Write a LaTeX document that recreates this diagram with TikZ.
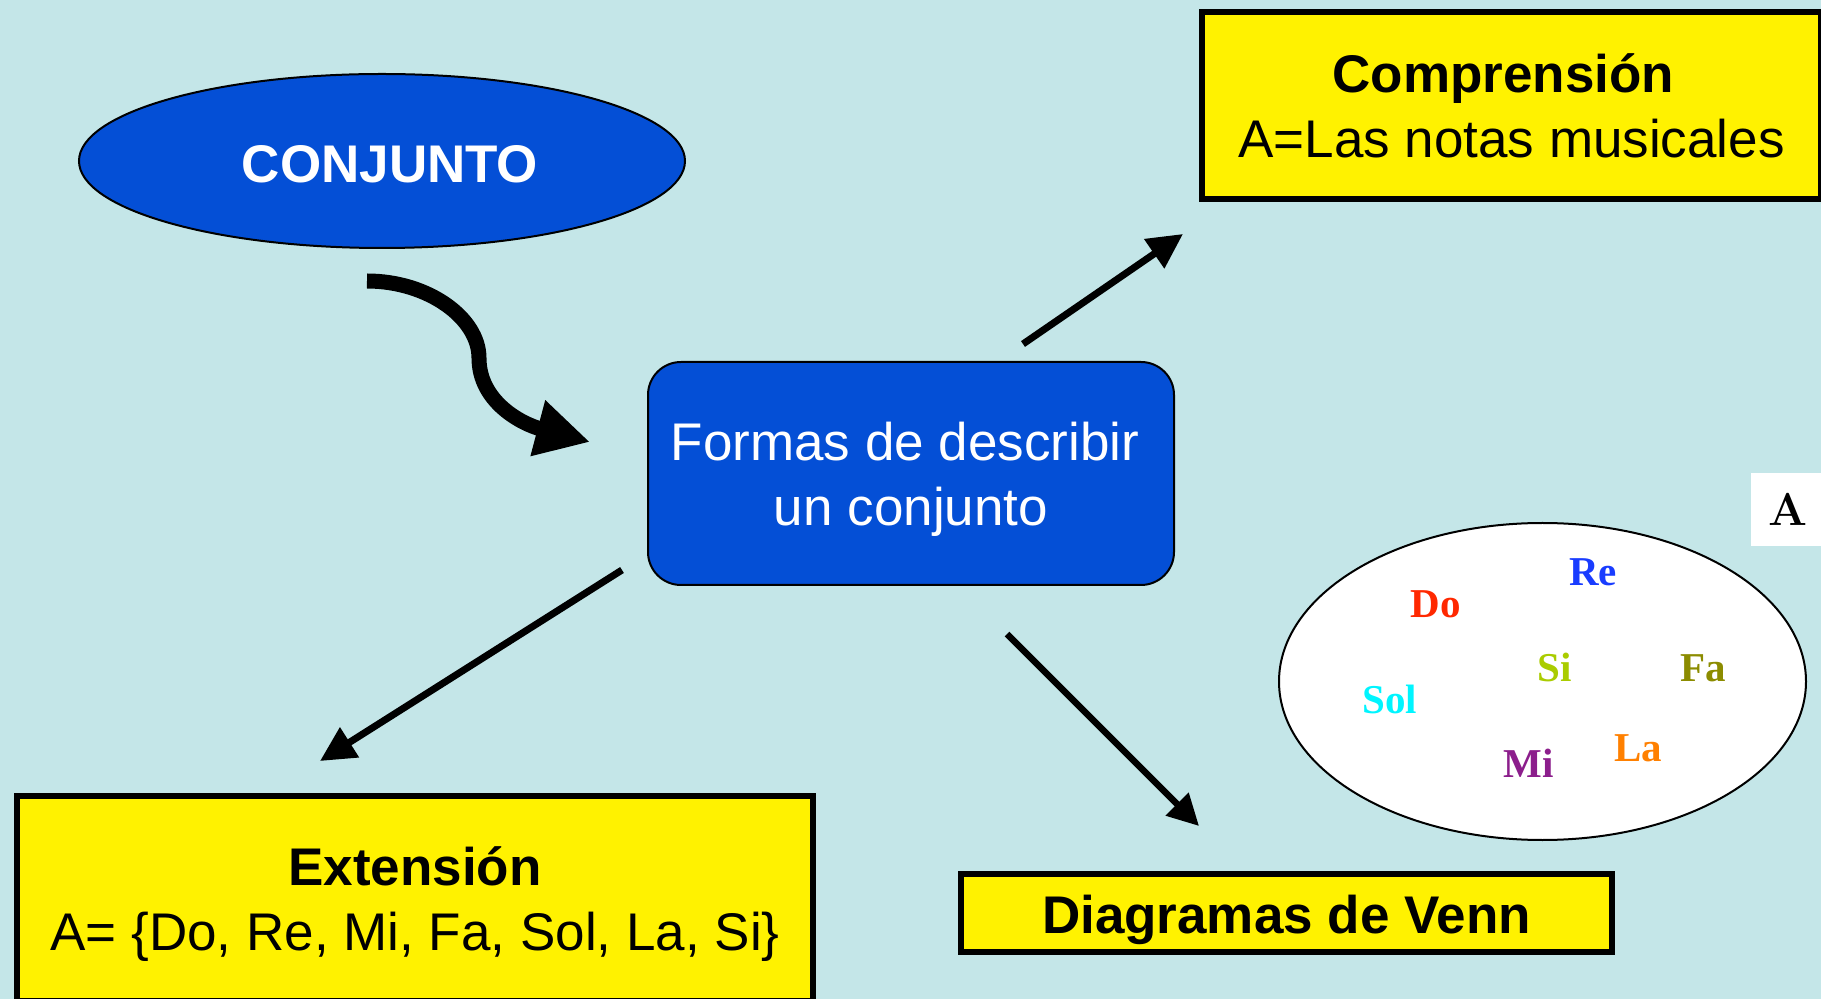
\documentclass[tikz,border=0pt]{standalone}
\usepackage{fontspec}
\newfontfamily\arial{Liberation Sans}
\newfontfamily\notef{Liberation Serif}
\usetikzlibrary{shapes.geometric,arrows.meta}
\definecolor{bg}{RGB}{196,230,232}
\definecolor{boxblue}{RGB}{4,79,214}
\definecolor{cDo}{RGB}{255,40,0}
\definecolor{cRe}{RGB}{25,60,255}
\definecolor{cSi}{RGB}{170,204,0}
\definecolor{cFa}{RGB}{140,140,0}
\definecolor{cSol}{RGB}{0,245,255}
\definecolor{cLa}{RGB}{255,128,0}
\definecolor{cMi}{RGB}{140,30,140}
\newcommand{\strutto}[1]{\rule{0pt}{#1}}
\begin{document}
\begin{tikzpicture}[x=0.5pt,y=-0.5pt,
  big/.style={font=\arial\fontsize{26.5}{32.5}\selectfont, align=center},
  bigbold/.style={font=\arial\bfseries\fontsize{26.5}{32.5}\selectfont, align=center},
  bluebox/.style={draw=black, line width=1pt, fill=boxblue, text=white, inner sep=0pt},
  yelbox/.style={draw=black, line width=3pt, fill=yellow, text=black, inner sep=0pt, rectangle},
  note/.style={font=\notef\bfseries\fontsize{20.5}{24}\selectfont, inner sep=0pt},
  thinarrow/.style={line width=3.5pt, -{Triangle[length=17.5pt,width=17pt]}},
]
\useasboundingbox (0,0) rectangle (1821,999);
\clip (0,0) rectangle (1821,999);
\fill[bg] (0,0) rectangle (1821,999);

% main shapes
\node[bluebox, ellipse, minimum width=303pt, minimum height=87pt, bigbold] (conj) at (382,161) {\hspace{8pt}\strutto{22pt}CONJUNTO};
\node[bluebox, rectangle, rounded corners=16.5pt, minimum width=263pt, minimum height=111.5pt, big] (forms) at (911,473.5) {\strutto{25.3pt}Formas de describir\hspace*{6pt}\\un conjunto};
\node[yelbox, minimum width=309.5pt, minimum height=93.5pt, big] (comp) at (1511.5,105.5) {\textbf{Comprensión}\hspace*{8pt}\\A=Las notas musicales};
\node[yelbox, minimum width=398pt, minimum height=102.5pt, big] (ext) at (415,898.5) {\strutto{24.5pt}\textbf{Extensión}\\A= \{Do, Re, Mi, Fa, Sol, La, Si\}};
\node[yelbox, minimum width=325.5pt, minimum height=39pt, bigbold] (venn) at (1286.5,913) {\strutto{26.5pt}Diagramas de Venn};

% Venn diagram
\node[ellipse, draw=black, line width=1pt, fill=white, minimum width=263.5pt, minimum height=158.5pt, inner sep=0pt] (set) at (1542.5,681.5) {};
\node[fill=white, minimum width=37pt, minimum height=36.5pt, inner sep=0pt, font=\bfseries\fontsize{23}{26}\selectfont] (setA) at (1788,509.5) {A};
\node[note, text=cRe] (re) at (1593,572) {Re};
\node[note, text=cDo] (do) at (1436,604) {Do};
\node[note, text=cSi] (si) at (1555,667) {Si};
\node[note, text=cFa] (fa) at (1703,668) {Fa};
\node[note, text=cSol] (sol) at (1390,699) {Sol};
\node[note, text=cLa] (la) at (1638,748) {La};
\node[note, text=cMi] (mi) at (1529,763) {Mi};

% connectors
\coordinate (c1) at (367,281);
\coordinate (c2) at (590,442);
\draw[line width=7.5pt, -{Triangle[length=27pt,width=27pt]}] (c1) .. controls (428,281) and (479,318) .. (479,358) .. controls (479,402) and (522,424) .. (c2);

\coordinate (u1) at (1023,344);
\coordinate (u2) at (1183,234);
\draw[thinarrow] (u1) -- (u2);

\coordinate (l1) at (622,570);
\coordinate (l2) at (320,761);
\draw[thinarrow] (l1) -- (l2);

\coordinate (r1) at (1007,634);
\coordinate (r2) at (1199,826);
\draw[line width=3.2pt, -{Triangle[length=15.5pt,width=15.5pt]}] (r1) -- (r2);
\end{tikzpicture}
\end{document}
